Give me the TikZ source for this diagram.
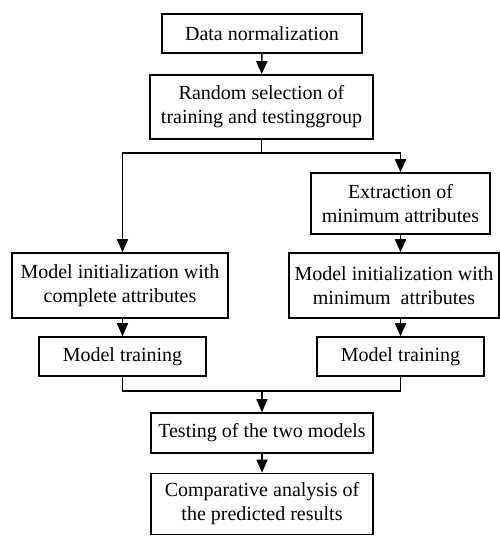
\documentclass[tikz,border=0pt]{standalone}
\usepackage{fontspec}
\setmainfont{Liberation Serif}
\usetikzlibrary{arrows.meta}
\begin{document}
\begin{tikzpicture}[x=1pt,y=-1pt,
  box/.style={draw, line width=1.6pt, inner sep=0pt, align=center,
    font=\fontsize{20}{24}\selectfont},
  conn/.style={line width=1.6pt},
  arr/.style={conn, -{Triangle[length=13pt,width=11pt]}}]
\useasboundingbox (0,0) rectangle (500,536);
\node[box, minimum width=200pt, minimum height=39pt] (n1) at (262,33.5) {Data normalization};
\node[box, minimum width=223pt, minimum height=64pt] (n2) at (261.5,107) {Random selection of\\training and testinggroup};
\node[box, minimum width=179pt, minimum height=61pt] (n3) at (400.5,203.5) {Extraction of\\minimum attributes};
\node[box, minimum width=216pt, minimum height=65pt] (n4) at (120,285.5) {Model initialization with\\complete attributes};
\node[box, minimum width=210pt, minimum height=65pt] (n5) at (394,285.5) {Model initialization with\\minimum~ attributes};
\node[box, minimum width=167pt, minimum height=39pt] (n6) at (122.5,356.5) {Model training};
\node[box, minimum width=167pt, minimum height=39pt] (n7) at (400.5,356.5) {Model training};
\node[box, minimum width=222pt, minimum height=40pt] (n8) at (262,433) {Testing of the two models};
\node[box, minimum width=222pt, minimum height=61pt] (n9) at (262,504) {Comparative analysis of\\the predicted results};
\coordinate (split) at (261.5,153);
\coordinate (merge) at (262,391);
\draw[arr] (n1) -- (n2);
\draw[conn] (n2.south) -- (split);
\draw[arr] (split) -| (n3.north);
\draw[arr] (split) -| (n6.north |- n4.north);
\draw[arr] (n3.south) -- (n3.south |- n5.north);
\draw[arr] (n6.north |- n4.south) -- (n6.north);
\draw[arr] (n5.south -| n7.north) -- (n7.north);
\draw[conn] (n6.south) |- (merge) -| (n7.south);
\draw[arr] (merge) -- (n8.north);
\draw[arr] (n8) -- (n9);
\end{tikzpicture}
\end{document}
